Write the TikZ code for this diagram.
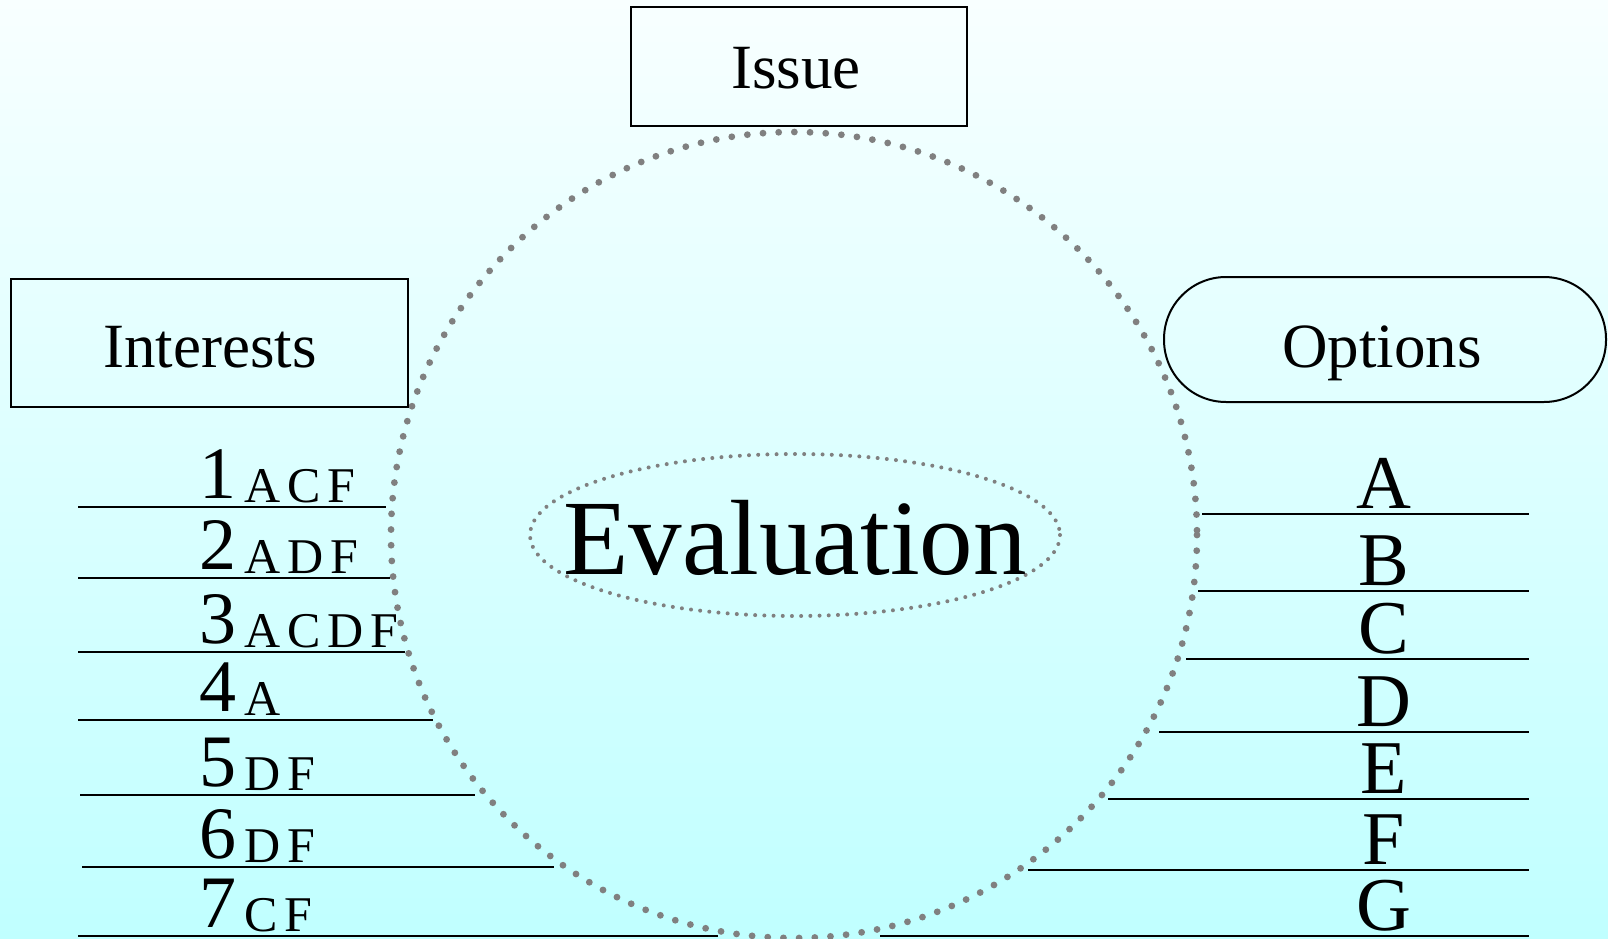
\documentclass[tikz,border=0pt]{standalone}
\usepackage{fontspec}
\setmainfont{Liberation Serif}
\definecolor{bgtop}{RGB}{248,255,255}
\definecolor{bgbot}{RGB}{192,255,255}
\definecolor{dotgray}{RGB}{128,128,128}
\begin{document}
\begin{tikzpicture}[x=1pt,y=-1pt,
  boxlabel/.style={font=\fontsize{63}{63}\selectfont, inner sep=0pt, anchor=base},
  frame/.style={draw=black, line width=2pt},
  rule/.style={draw=black, line width=2pt},
  numlabel/.style={inner sep=0pt, anchor=base west, font=\fontsize{74}{74}\selectfont},
  sublabel/.style={inner sep=0pt, anchor=base west, font=\fontsize{50}{50}\selectfont\addfontfeatures{LetterSpace=14}},
  optlabel/.style={inner sep=0pt, anchor=base, font=\fontsize{76}{76}\selectfont},
  bigdots/.style={draw=dotgray, line width=6.8pt, line cap=round, dash pattern=on 0pt off 15.7pt},
  smalldots/.style={draw=dotgray, line width=4pt, line cap=round, dash pattern=on 0pt off 9.2pt}]
\useasboundingbox (0,0) rectangle (1608,939);
\shade[top color=bgtop, bottom color=bgbot] (0,0) rectangle (1608,939);

% big dotted circle and inner ellipse
\draw[bigdots] (794,535) circle [radius=403];
\draw[smalldots] (795,535) ellipse [x radius=265, y radius=81];
\node[inner sep=0pt, anchor=base, font=\fontsize{107}{107}\selectfont] (eval) at (795,574) {Evaluation};

% boxes
\draw[frame] (631,7) rectangle (967,126);
\node[boxlabel] (issue) at (796,89) {Issue};
\draw[frame] (11,279) rectangle (408,407);
\node[boxlabel] (interests) at (210,367) {Interests};
\draw[frame, rounded corners=62pt] (1164,277) rectangle (1606,402);
\node[boxlabel] (options) at (1382,367) {Options};

% interests rows
\foreach \i/\s/\y/\xl/\xr in {1/ACF/507/78/386, 2/ADF/578/78/390, 3/ACDF/652/78/405, 4/A/720/78/433, 5/DF/795/80/475, 6/DF/867/82/554, 7/CF/936/78/718}{
  \node[numlabel] (n\i) at (199,\y-9) {\i};
  \node[sublabel] (s\i) at (244,\y-5) {\s};
  \coordinate (la\i) at (\xl,\y);
  \coordinate (lb\i) at (\xr,\y);
  \draw[rule] (la\i) -- (lb\i);
}

% options rows
\foreach \l/\y/\xl in {A/514/1202, B/591/1198, C/659/1186, D/732/1159, E/799/1108, F/870/1028, G/936/880}{
  \node[optlabel] (o\l) at (1384,\y-6) {\l};
  \coordinate (ra\l) at (\xl,\y);
  \coordinate (rb\l) at (1529,\y);
  \draw[rule] (ra\l) -- (rb\l);
}
\end{tikzpicture}
\end{document}
